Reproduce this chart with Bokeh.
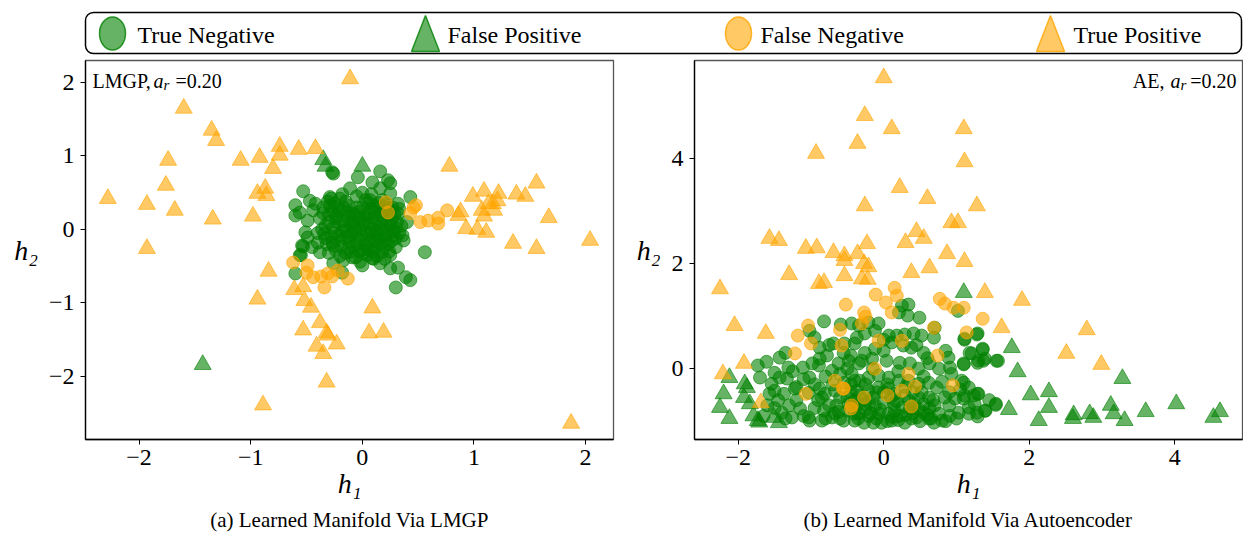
import numpy as np
from bokeh.plotting import figure
from bokeh.models import Range1d, Label, Title, BoxAnnotation, FixedTicker
from bokeh.layouts import column, row
from bokeh.embed import file_html
from bokeh.resources import INLINE
from bokeh.core.properties import value

# ---------------------------------------------------------------- data
# (h1, h2) coordinates of the learned manifold, LMGP panel
lmgp_true_negative = [
    (-0.27, 0.78), (-0.26, 0.76), (0.16, 0.79), (-0.04, 0.71), (0.09, 0.64), (0.23, 0.67),
    (0.25, 0.63), (-0.11, 0.56), (0.00, 0.50), (0.16, 0.56), (0.25, 0.49), (0.43, 0.44),
    (0.32, 0.35), (-0.53, 0.52), (-0.60, 0.33), (-0.60, 0.19), (-0.47, 0.39), (-0.42, 0.35),
    (-0.29, 0.44), (-0.20, 0.42), (-0.56, 0.23), (-0.49, 0.12), (-0.44, 0.26), (-0.51, -0.04),
    (-0.49, -0.11), (-0.54, -0.22), (-0.56, -0.35), (-0.45, -0.24), (-0.38, -0.31), (-0.40, -0.18),
    (0.40, 0.10), (0.36, -0.08), (0.30, -0.24), (0.25, -0.35), (0.56, -0.31), (0.37, -0.15),
    (0.00, -0.49), (0.16, -0.46), (0.25, -0.53), (0.32, -0.52), (0.39, -0.65), (0.43, -0.69),
    (0.30, -0.79), (-0.26, -0.46), (-0.17, -0.42), (-0.09, -0.38), (-0.60, -0.60), (0.09, -0.39),
    (-0.55, -0.35), (-0.53, -0.23), (-0.18, -0.59),
    (-0.35, 0.30), (-0.30, 0.20), (-0.33, 0.05), (-0.28, -0.10), (-0.32, -0.20), (-0.25, 0.35),
    (-0.20, 0.25), (-0.22, 0.10), (-0.18, -0.02), (-0.20, -0.15), (-0.24, -0.28), (-0.15, 0.38),
    (-0.12, 0.18), (-0.10, 0.05), (-0.13, -0.10), (-0.08, -0.22), (-0.15, -0.32), (-0.05, 0.30),
    (-0.03, 0.15), (-0.02, 0.00), (-0.04, -0.12), (0.00, -0.28), (0.03, 0.40), (0.05, 0.22),
    (0.06, 0.08), (0.04, -0.05), (0.07, -0.18), (0.05, -0.35), (0.12, 0.32), (0.14, 0.12),
    (0.12, -0.02), (0.15, -0.12), (0.12, -0.25), (0.20, 0.25), (0.22, 0.05), (0.20, -0.08),
    (0.23, -0.20), (0.26, 0.15), (0.28, -0.02), (0.30, -0.12), (0.27, 0.30), (0.10, -0.40),
    (-0.06, -0.38), (-0.28, 0.42), (0.18, 0.40), (0.32, 0.22), (-0.38, 0.15), (-0.40, -0.05),
    (0.00, 0.10), (0.02, -0.20), (-0.08, 0.10), (0.09, 0.00), (-0.16, 0.05), (0.17, 0.00),
    (-0.10, -0.30), (0.18, -0.30), (-0.25, -0.05), (0.24, -0.30), (-0.30, -0.32), (0.35, 0.05),
    (-0.27, 0.25), (-0.23, 0.18), (-0.26, 0.02), (-0.21, -0.08), (-0.27, -0.18), (-0.17, 0.30),
    (-0.14, 0.24), (-0.11, 0.12), (-0.07, 0.02), (-0.09, -0.07), (-0.11, -0.17), (-0.19, -0.24),
    (-0.02, 0.24), (0.01, 0.06), (-0.01, -0.08), (0.03, -0.14), (0.01, -0.33), (0.08, 0.28),
    (0.10, 0.16), (0.09, -0.10), (0.10, -0.30), (0.16, 0.20), (0.18, 0.08), (0.16, -0.20),
    (0.21, -0.14), (0.24, 0.20), (0.25, 0.06), (0.27, -0.08), (0.22, 0.34), (0.31, 0.10),
    (0.33, -0.05), (-0.33, -0.12), (-0.36, 0.00), (-0.31, 0.38), (-0.05, 0.45), (0.08, 0.48),
    (-0.18, 0.48), (0.13, -0.36), (-0.02, -0.44), (0.20, -0.40), (-0.12, 0.32), (0.06, 0.36),
    (-0.35, 0.22), (-0.05, -0.20), (0.12, 0.06), (-0.07, 0.20), (0.03, 0.18), (0.14, -0.06),
    (-0.14, -0.02), (-0.24, 0.15),
    (-0.30, 0.10), (-0.26, -0.22), (-0.22, 0.30), (-0.18, 0.12), (-0.16, -0.12), (-0.12, -0.26),
    (-0.09, 0.22), (-0.06, -0.02), (-0.03, -0.30), (0.00, 0.30), (0.02, 0.12), (0.04, -0.24),
    (0.07, 0.40), (0.08, -0.04), (0.11, 0.24), (0.13, -0.16), (0.15, 0.36), (0.19, 0.16),
    (0.19, -0.22), (0.22, -0.02), (0.24, 0.28), (0.26, -0.16), (0.29, 0.20), (0.30, 0.02),
    (-0.34, -0.06), (-0.29, 0.32), (0.33, 0.28), (0.06, -0.28), (-0.20, -0.36), (0.16, 0.30),
]
lmgp_false_positive = [(-0.35, 0.95), (-0.33, 0.86), (0.00, 0.86), (-1.43, -1.84)]
lmgp_false_negative = [
    (-0.62, -0.45), (-0.49, -0.49), (-0.50, -0.59), (-0.44, -0.65), (-0.37, -0.64), (-0.31, -0.60),
    (-0.27, -0.64), (-0.34, -0.79), (-0.13, -0.67), (-0.22, -0.56),
    (0.76, 0.26), (0.68, 0.16), (0.68, 0.08), (0.59, 0.12), (0.52, 0.10), (0.46, 0.30),
    (0.43, 0.22), (0.23, 0.23), (0.21, 0.37), (0.48, 0.33),
]
lmgp_true_positive = [
    (-0.11, 2.05), (-1.60, 1.65), (-1.35, 1.35), (-1.31, 1.21), (-1.74, 0.94), (-1.76, 0.60),
    (-2.28, 0.42), (-1.93, 0.34), (-1.68, 0.26), (-1.34, 0.14), (-1.09, 0.94), (-0.92, 0.98),
    (-0.74, 1.13), (-0.74, 1.01), (-0.57, 1.09), (-0.42, 1.10), (-0.80, 0.83), (-0.94, 0.49),
    (-0.87, 0.56), (-0.86, 0.46), (-0.98, 0.18), (-1.93, -0.26), (-0.84, -0.57), (-0.94, -0.95),
    (-0.61, -0.82), (-0.53, -0.78), (-0.52, -0.97), (-0.46, -1.06), (-0.38, -1.27), (-0.53, -1.37),
    (-0.32, -1.41), (-0.31, -1.44), (-0.41, -1.59), (-0.23, -1.56), (-0.35, -1.69), (-0.32, -2.08),
    (-0.89, -2.39), (0.09, -1.07), (0.06, -1.41), (0.19, -1.40),
    (0.78, 0.86), (1.56, 0.63), (0.99, 0.45), (1.09, 0.52), (1.22, 0.49), (1.38, 0.48),
    (1.46, 0.45), (1.21, 0.39), (1.17, 0.35), (1.13, 0.35), (1.18, 0.26), (1.07, 0.26),
    (0.88, 0.24), (0.86, 0.19), (1.09, 0.18), (1.67, 0.16), (0.93, 0.01), (1.03, 0.00),
    (1.11, -0.04), (1.35, -0.19), (1.56, -0.26), (2.04, -0.15), (1.87, -2.64),
]

# (h1, h2) coordinates of the learned manifold, autoencoder panel
ae_true_negative = [
    (-0.82, 0.90), (-0.59, 0.84), (-0.44, 0.86), (-1.02, 0.72), (-0.95, 0.59), (-0.88, 0.40),
    (-0.69, 0.48), (-0.54, 0.48), (-0.37, 0.59), (-1.35, 0.30), (-1.43, 0.21), (-1.61, 0.13),
    (-1.73, 0.06), (-1.70, -0.17), (-1.50, -0.08), (-1.31, 0.02), (-1.43, -0.17), (-1.33, -0.19),
    (-1.11, 0.02), (-1.02, -0.17), (-0.88, 0.19), (-0.78, 0.25), (-0.89, 0.06), (-0.71, -0.04),
    (-0.62, 0.10), (-0.48, 0.15), (-0.34, 0.10), (-1.54, -0.29), (-1.50, -0.42), (-1.57, -0.48),
    (-1.37, -0.48), (-1.22, -0.38), (-1.03, -0.46), (-0.88, -0.38), (-0.81, -0.48), (-0.67, -0.42),
    (-0.54, -0.27), (-0.40, -0.23), (-1.40, -0.84), (-1.26, -0.93), (-1.15, -0.76), (-1.03, -0.93),
    (-0.85, -0.99), (-0.71, -0.93), (-0.55, -0.99), (-0.40, -0.86), (-1.02, -0.99), (-0.82, -0.80),
    (-0.48, -0.67), (-0.33, -0.51), (-0.90, -0.60), (-0.75, -0.70), (-0.60, -0.55), (-0.50, -0.80),
    (-0.68, -0.85), (-0.60, -0.95), (-0.95, -0.30), (-0.80, -0.15), (-0.60, -0.10), (-0.50, 0.00),
    (-0.45, -0.45), (-0.55, 0.30), (-1.20, -0.60), (-1.10, -0.20), (-0.98, 0.10), (-1.25, -0.05),
    (0.25, 1.20), (0.34, 1.22), (0.33, 1.01), (0.49, 0.97), (0.21, 1.07), (1.02, 1.10),
    (0.70, 0.78), (-0.34, 0.82), (-0.21, 0.88), (-0.07, 0.86), (-0.12, 0.72), (-0.26, 0.67),
    (0.07, 0.63), (0.18, 0.63), (0.29, 0.65), (0.41, 0.67), (0.52, 0.63), (0.69, 0.59),
    (1.11, 0.57), (1.29, 0.67), (0.11, 0.50), (0.27, 0.44), (0.38, 0.40), (0.55, 0.30),
    (0.85, 0.34), (0.89, 0.21), (1.18, 0.30), (1.36, 0.38), (1.30, 0.15), (1.39, 0.19),
    (1.57, 0.15), (1.10, 0.10), (-0.40, 0.48), (-0.26, 0.30), (-0.12, 0.38), (0.00, 0.34),
    (-0.30, 0.15), (-0.16, 0.19), (0.04, 0.15), (0.22, 0.11), (0.36, 0.10), (0.48, 0.00),
    (0.63, 0.10), (0.76, 0.00), (0.91, 0.02), (0.93, -0.10), (1.07, -0.23), (0.84, -0.55),
    (0.98, -0.57), (1.11, -0.51), (1.24, -0.51), (1.30, -0.48), (1.54, -0.69), (1.39, -0.80),
    (1.17, -0.74), (1.28, -0.84), (1.03, -0.84), (0.91, -0.90), (0.76, -0.86), (0.63, -0.76),
    (0.55, -0.84), (0.45, -0.93), (0.29, -1.03), (0.11, -0.99), (-0.03, -1.03), (-0.14, -1.03),
    (0.80, -0.99), (0.62, -0.95), (-0.44, -0.10), (-0.33, -0.23), (-0.21, -0.17), (-0.07, -0.13),
    (0.07, -0.17), (0.21, -0.23), (0.34, -0.23), (0.48, -0.29), (0.62, -0.27), (0.73, -0.36),
    (-0.37, -0.42), (-0.21, -0.42), (-0.07, -0.36), (0.07, -0.38), (0.15, -0.48), (0.29, -0.51),
    (0.48, -0.55), (0.62, -0.55), (-0.40, -0.61), (-0.26, -0.67), (-0.12, -0.70), (0.00, -0.65),
    (0.14, -0.67), (0.25, -0.74), (0.36, -0.76), (-0.34, -0.86), (-0.21, -0.90), (-0.07, -0.86),
    (0.07, -0.86), (0.21, -0.90), (-0.40, -0.99), (-0.27, -1.03), (0.38, -0.95), (0.69, -1.03),
    (1.28, 0.65), (1.11, 0.55), (1.21, 0.29), (1.36, 0.36), (1.37, 0.15), (1.29, 0.11),
    (1.55, 0.15), (1.10, 0.08), (1.10, -0.27), (1.17, -0.36), (1.29, -0.48), (1.10, -0.57),
    (1.25, -0.67), (1.54, -0.67), (1.40, -0.80), (1.29, -0.91), (1.17, -0.86),
    (-0.30, -0.60), (-0.15, -0.55), (0.10, -0.55), (0.35, -0.62), (0.55, -0.68), (0.70, -0.70),
    (-0.05, -0.78), (0.15, -0.80), (0.30, -0.88), (0.48, -0.78), (0.60, -0.88), (-0.25, -0.78),
    (-0.50, -0.55), (-0.35, -0.95), (-0.10, -0.95), (0.05, -1.00), (0.20, -0.98), (0.50, -1.00),
    (0.90, -0.70), (1.00, -0.95), (-0.65, -0.70), (-0.80, -0.95), (-0.95, -0.75), (-1.10, -0.90),
    (-1.30, -0.70), (-1.45, -0.60), (-1.60, -0.70), (-1.20, -0.35), (-0.85, -0.55), (-0.70, -0.30),
    (-0.25, -0.30), (0.00, -0.45), (0.40, -0.45), (0.55, -0.15), (0.80, -0.25), (-0.15, 0.00),
    (0.20, -0.05), (0.60, 0.20), (-0.45, 0.25), (-0.75, 0.45), (0.00, 0.55), (0.45, 0.45),
    (-1.65, -0.90), (-1.50, -0.75), (-1.35, -0.95), (0.85, -1.00), (1.05, -0.40), (1.45, -0.60),
    (-0.45, -0.30), (-0.20, -0.65), (0.05, -0.30), (0.30, -0.35), (0.52, -0.45), (0.68, -0.60),
    (-0.10, -0.45), (0.18, -0.62), (0.42, -0.68), (-0.38, -0.72), (0.12, -0.92), (0.40, -0.85),
    (-0.18, -0.85), (0.65, -0.95), (0.90, -0.45), (-0.62, -0.82),
]
ae_false_positive = [
    (1.10, 1.45), (1.76, 0.40), (1.84, -0.06), (3.28, -0.19), (2.02, -0.50), (2.27, -0.44),
    (1.72, -0.78), (2.27, -0.74), (2.13, -0.99), (2.61, -0.88), (2.60, -0.95), (2.83, -0.86),
    (2.88, -0.93), (3.12, -0.70), (3.16, -0.86), (3.31, -0.99), (3.60, -0.82), (4.02, -0.67),
    (4.53, -0.93), (4.62, -0.82),
    (-2.12, -0.17), (-2.20, -0.48), (-2.25, -0.74), (-2.12, -0.95), (-1.91, -0.29), (-1.88, -0.36),
    (-1.92, -0.55), (-1.84, -0.67), (-1.79, -0.90), (-1.73, -0.99), (-1.71, -1.02), (-1.51, -0.93),
    (-1.44, -1.03),
]
ae_false_negative = [
    (-0.52, 1.22), (-1.04, 0.82), (-1.18, 0.63), (-1.00, 0.48), (-1.22, 0.29), (-1.07, -0.48),
    (-0.60, 0.74), (-0.55, -0.38), (0.15, 1.54), (0.18, 1.39), (-0.11, 1.41), (0.03, 1.26),
    (0.11, 1.07), (-0.27, 1.07), (-0.25, 0.99), (0.77, 1.33), (0.84, 1.24), (0.96, 1.16),
    (1.10, 1.16), (0.69, 0.78), (0.74, 0.25), (0.95, -0.32), (1.14, 0.69), (-0.07, 0.53),
    (0.25, 0.53), (-0.58, 0.44), (-0.12, 0.00), (0.34, -0.10), (0.43, -0.34), (0.05, -0.51),
    (-0.27, -0.55), (-0.56, -0.38), (-0.67, -0.23), (0.38, -0.72), (-0.45, -0.76), (0.25, -0.42),
    (1.36, 0.95), (-0.30, 0.86), (-0.44, -0.70),
]
ae_true_positive = [
    (0.00, 5.54), (-0.26, 4.82), (0.11, 4.57), (1.10, 4.57), (-0.36, 4.29), (-0.93, 4.10),
    (1.11, 3.94), (0.22, 3.45), (0.60, 3.24), (-0.26, 3.10), (1.28, 3.10), (0.93, 2.78),
    (1.02, 2.78), (0.45, 2.61), (0.30, 2.40), (0.55, 2.48), (-1.57, 2.48), (-1.44, 2.44),
    (-1.07, 2.29), (-0.92, 2.30), (-0.69, 2.21), (-0.54, 2.15), (-0.36, 2.19), (-0.23, 2.38),
    (0.87, 2.19), (1.11, 2.04), (1.39, 1.45), (1.90, 1.30), (1.62, 0.78), (2.79, 0.74),
    (2.51, 0.29), (2.99, 0.08), (-2.25, 1.52), (-2.05, 0.82), (-1.62, 0.67), (-1.92, 0.10),
    (-2.21, -0.10), (-1.69, -0.65), (-1.30, 1.79), (-0.89, 1.62), (-0.82, 1.64), (-0.54, 1.77),
    (-0.30, 1.71), (-0.22, 1.70), (0.38, 1.83), (0.63, 1.92), (-0.54, 2.06), (-0.27, 2.00),
    (-0.21, 1.94),
]

lmgp_xticks = [-2, -1, 0, 1, 2]
lmgp_yticks = [-2, -1, 0, 1, 2]
ae_xticks = [-2, 0, 2, 4]
ae_yticks = [0, 2, 4]

legend_labels = ["True Negative", "False Positive", "False Negative", "True Positive"]

# ---------------------------------------------------------------- style
SERIF = "'Liberation Serif', 'Times New Roman', serif"
GREEN = "green"
ORANGE = "orange"
ALPHA = 0.6
FRAME_H = 379


def minus_labels(ticks):
    return {t: (f"\u2212{abs(t)}" if t < 0 else str(t)) for t in ticks}


def scatter_class(p, pts, marker, color, size):
    xs = [q[0] for q in pts]
    ys = [q[1] for q in pts]
    p.scatter(xs, ys, marker=marker, size=size, fill_color=color, fill_alpha=ALPHA,
              line_color=color, line_alpha=ALPHA, line_width=1)


def panel(xr, yr, xticks, yticks, frame_w, border_l, border_r, caption, classes):
    p = figure(frame_width=frame_w, frame_height=FRAME_H,
               x_range=Range1d(*xr), y_range=Range1d(*yr),
               output_backend="svg", toolbar_location=None,
               min_border_left=border_l, min_border_right=border_r,
               min_border_top=4, min_border_bottom=96)
    p.grid.visible = False
    p.outline_line_color = "#555555"
    p.outline_line_width = 1.3
    p.background_fill_color = "white"
    p.border_fill_color = "white"
    for ax, ticks in ((p.xaxis[0], xticks), (p.yaxis[0], yticks)):
        ax.ticker = FixedTicker(ticks=ticks)
        ax.major_label_overrides = minus_labels(ticks)
        ax.major_label_text_font = SERIF
        ax.major_label_text_font_size = "24px"
        ax.major_label_text_color = "black"
        ax.axis_line_color = "black"
        ax.axis_line_width = 1.3
        ax.major_tick_line_color = "black"
        ax.major_tick_out = 5
        ax.major_tick_in = 0
        ax.minor_tick_line_color = None
        ax.axis_label_text_font = SERIF
        ax.axis_label_text_font_style = "italic"
        ax.axis_label_text_font_size = "28px"
        ax.axis_label_text_color = "black"
    p.xaxis.axis_label = "h\u2081"
    p.yaxis.axis_label = "h\u2082"
    p.yaxis.axis_label_orientation = "horizontal"
    p.xaxis.major_label_standoff = 5
    p.yaxis.major_label_standoff = 6
    p.xaxis.axis_label_standoff = 0
    p.yaxis.axis_label_standoff = 8

    tn, fp, fn, tp = classes
    scatter_class(p, tn, "circle", GREEN, 13)
    scatter_class(p, fp, "triangle", GREEN, 17)
    scatter_class(p, fn, "circle", ORANGE, 13)
    scatter_class(p, tp, "triangle", ORANGE, 17)

    p.add_layout(Title(text=caption, align="center", text_font=SERIF,
                       text_font_size="21px", text_font_style="normal",
                       text_color="black", standoff=8), "below")
    return p


def tag(p, anchor_x, anchor_y, parts):
    for text, dx, dy, size, style, align in parts:
        p.add_layout(Label(x=anchor_x, y=anchor_y, x_offset=dx, y_offset=dy, text=text,
                           text_font=SERIF, text_font_size=size, text_font_style=style,
                           text_align=align, text_baseline="top", text_color="black"))


# ---------------------------------------------------------------- panels
lmgp_xr, lmgp_yr = (-2.48, 2.25), (-2.86, 2.30)
ae_xr, ae_yr = (-2.60, 4.93), (-1.35, 5.87)

left = panel(lmgp_xr, lmgp_yr, lmgp_xticks, lmgp_yticks, 528, 85, 20,
             "(a) Learned Manifold Via LMGP",
             (lmgp_true_negative, lmgp_false_positive, lmgp_false_negative, lmgp_true_positive))
tag(left, lmgp_xr[0], lmgp_yr[1], [
    ("LMGP,", 7, -9, "20px", "normal", "left"),
    ("a", 68, -9, "20px", "italic", "left"),
    ("r", 78, -16, "15px", "italic", "left"),
    ("=0.20", 90, -9, "20px", "normal", "left"),
])

right = panel(ae_xr, ae_yr, ae_xticks, ae_yticks, 548, 60, 2,
              "(b) Learned Manifold Via Autoencoder",
              (ae_true_negative, ae_false_positive, ae_false_negative, ae_true_positive))
tag(right, ae_xr[1], ae_yr[1], [
    ("=0.20", -6, -9, "20px", "normal", "right"),
    ("r", -62, -16, "15px", "italic", "left"),
    ("a", -72, -9, "20px", "italic", "left"),
    ("AE,", -78, -9, "20px", "normal", "right"),
])

# ---------------------------------------------------------------- legend strip
leg = figure(width=1243, height=56, x_range=Range1d(0, 1243), y_range=Range1d(56, 0),
             output_backend="svg", toolbar_location=None,
             min_border=0, x_axis_location=None, y_axis_location=None)
leg.grid.visible = False
leg.outline_line_color = None
box_style = dict(left=85, right=1241, top=12, bottom=53, fill_color=None, fill_alpha=0,
                 line_color="black", line_alpha=1.0, line_width=1.5)
try:
    box = BoxAnnotation(border_radius=8, **box_style)
except AttributeError:
    box = BoxAnnotation(**box_style)
leg.add_layout(box)

swatch_x = [112, 425, 738, 1050]
text_x = [137, 447, 760, 1073]
swatch_kind = ["circle", "triangle", "circle", "triangle"]
swatch_color = [GREEN, GREEN, ORANGE, ORANGE]
for cx, kind, col in zip(swatch_x, swatch_kind, swatch_color):
    if kind == "circle":
        leg.ellipse(x=[cx], y=[33], width=26, height=33, fill_color=col, fill_alpha=ALPHA,
                    line_color=col, line_alpha=0.8, line_width=1.5)
    else:
        leg.patch(x=[cx, cx - 14, cx + 14], y=[15, 51, 51], fill_color=col, fill_alpha=ALPHA,
                  line_color=col, line_alpha=0.8, line_width=1.5)
leg.text(x=text_x, y=[34] * 4, text=legend_labels, text_font=value(SERIF),
         text_font_size="24px", text_baseline="middle", text_align="left", text_color="black")

layout = column(leg, row(left, right))
open("out.html", "w").write(file_html(layout, INLINE))
